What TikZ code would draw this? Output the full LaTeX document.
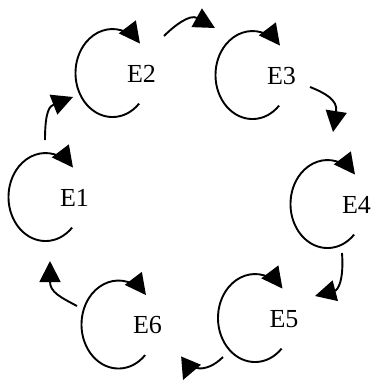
\documentclass[tikz,border=0pt]{standalone}
\usepackage{fontspec}
\setmainfont{Liberation Serif}
\usetikzlibrary{arrows.meta}
\begin{document}
\begin{tikzpicture}[x=1pt,y=-1pt,
  state/.style={inner sep=0pt, font=\fontsize{26}{30}\selectfont},
  arr/.style={line width=1.9pt, -{Triangle[length=21pt 0 0,width=21pt 0 0]}}]
\useasboundingbox (0,0) rectangle (370,383);
% state labels
\node[state] (E1) at (74.5,198) {E1};
\node[state] (E2) at (141.5,74) {E2};
\node[state] (E3) at (281.5,76) {E3};
\node[state] (E4) at (356.5,205) {E4};
\node[state] (E5) at (284,319) {E5};
\node[state] (E6) at (147.5,325.5) {E6};
% self loops
\foreach \n in {E1,E2,E3,E4,E5,E6}
  \draw[arr] (\n) ++(-2.4,29.6) arc[start angle=44,end angle=318,x radius=37,y radius=44];
% connector end points
\coordinate (s12) at (45,140);  \coordinate (t12) at (73,97);
\coordinate (s23) at (164,36);  \coordinate (t23) at (215,28);
\coordinate (s34) at (310,87);  \coordinate (t34) at (333,132);
\coordinate (s45) at (342,253); \coordinate (t45) at (315,296);
\coordinate (s56) at (223,357); \coordinate (t56) at (183,380);
\coordinate (s61) at (77,306);  \coordinate (t61) at (50,261);
% connectors
\draw[arr] (s12) .. controls (45,110) and (50,106) .. (t12);
\draw[arr] (s23) .. controls (175,25) and (190,14) .. (t23);
\draw[arr] (s34) .. controls (325,93) and (338,100) .. (t34);
\draw[arr] (s45) .. controls (344,280) and (338,290) .. (t45);
\draw[arr] (s56) .. controls (205,375) and (188,368) .. (t56);
\draw[arr] (s61) .. controls (60,297) and (50,292) .. (t61);
\end{tikzpicture}
\end{document}
